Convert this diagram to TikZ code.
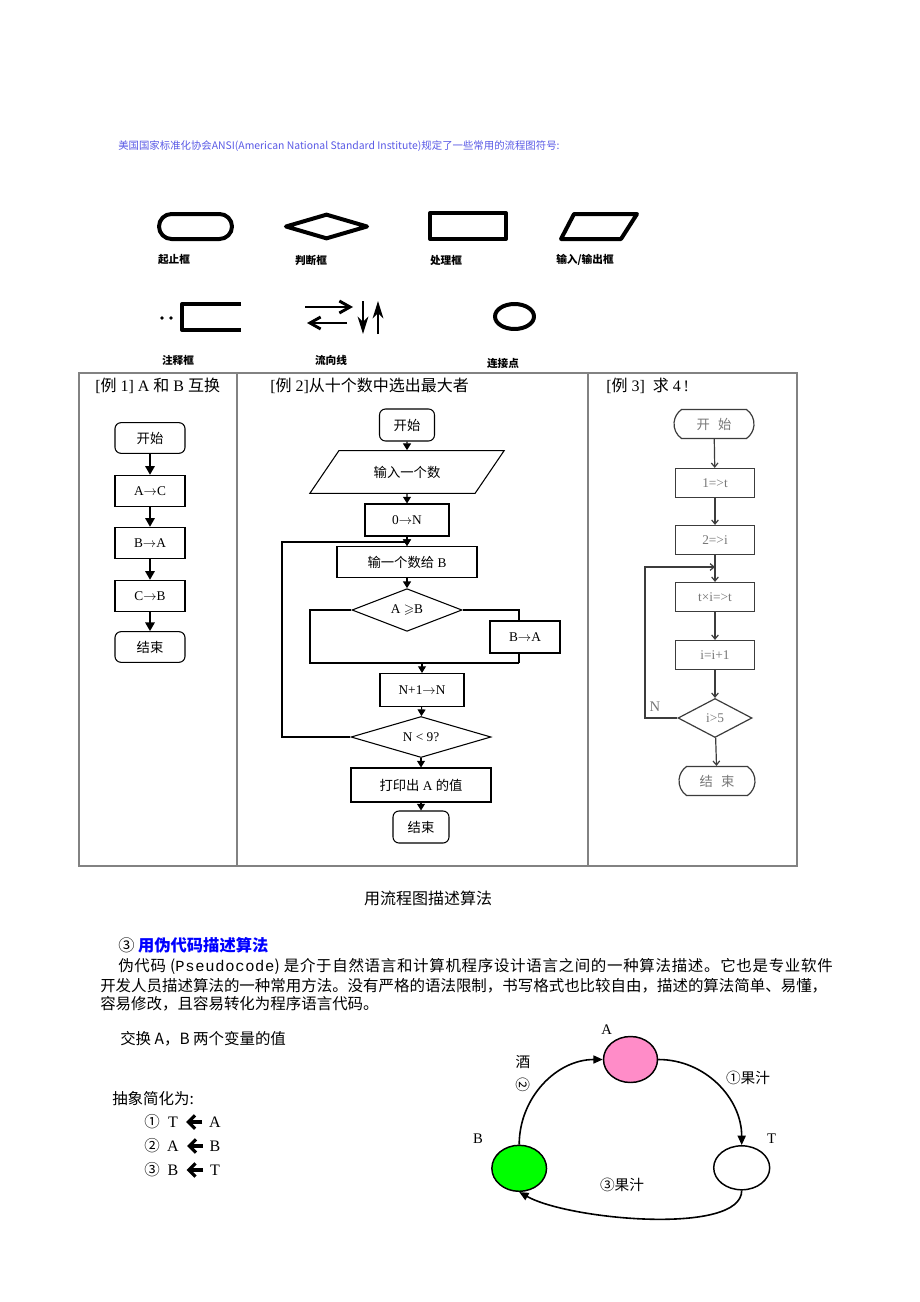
\documentclass[tikz,border=0pt]{standalone}
\usepackage{fontspec}
\usepackage{amssymb}
\usepackage{tikz}
\usetikzlibrary{positioning, shapes.geometric, shapes.misc, arrows.meta}

\setmainfont{Liberation Serif}
\newfontfamily\cjk{Noto Sans CJK SC}
\newfontfamily\cjkwide[LetterSpace=4.5]{Noto Sans CJK SC}
\newfontfamily\monolat[LetterSpace=4.5]{Liberation Mono}
\newcommand{\zh}[1]{{\cjk #1}}

\definecolor{capblue}{RGB}{90,90,230}
\definecolor{framegray}{RGB}{130,130,130}
\definecolor{exline}{RGB}{60,60,60}
\definecolor{extext}{RGB}{120,120,120}
\definecolor{pinkA}{RGB}{255,140,200}
\definecolor{greenB}{RGB}{0,255,0}

\begin{document}
\begin{tikzpicture}[
  x=0.75pt, y=-0.75pt,
  every node/.style={inner sep=0pt, align=center},
  symline/.style={draw, line width=3pt, line join=round},
  symlabel/.style={font=\cjk\bfseries\fontsize{8}{9}\selectfont},
  flowsym/.style={line width=2.2pt, -{Straight Barb[length=8pt, width=9pt]}},
  flowvert/.style={line width=2pt, -{Stealth[length=13pt, width=8pt, inset=4pt]}},
  frame/.style={draw=framegray, line width=1.1pt},
  title/.style={anchor=west, font=\fontsize{12}{14}\selectfont},
  e1term/.style={draw, line width=0.8pt, rounded corners=4.5pt, minimum width=52.5pt, minimum height=23pt, font=\fontsize{10}{12}\selectfont},
  e1box/.style={draw, line width=0.8pt, minimum width=52.5pt, minimum height=23.5pt, font=\fontsize{10}{12}\selectfont},
  e1arrow/.style={-{Triangle[length=6.5pt, width=7pt]}, line width=1.4pt},
  e2box/.style={draw, line width=0.8pt, font=\fontsize{10}{12}\selectfont},
  e2dec/.style={e2box, diamond, aspect=3},
  e2line/.style={line width=0.8pt},
  e2arrow/.style={e2line, -{Triangle[length=5pt, width=6pt]}},
  e3box/.style={draw=exline, line width=0.9pt, text=extext, minimum width=59.25pt, minimum height=21.75pt, font=\fontsize{10}{12}\selectfont},
  e3term/.style={e3box, rounded rectangle, rounded rectangle arc length=110},
  e3arrow/.style={draw=exline, line width=0.9pt, -{Straight Barb[length=3pt, width=5pt]}},
  vertex/.style={draw, ellipse, line width=1.1pt},
  cyc/.style={line width=1.2pt, -{Triangle[length=7pt, width=6pt]}},
  lbl/.style={font=\fontsize{11}{13}\selectfont},
  zhtext/.style={anchor=west, font=\cjk\fontsize{11.6}{14}\selectfont},
  stepvar/.style={font=\fontsize{12}{14}\selectfont},
  steparrow/.style={line width=2.4pt, -{Straight Barb[length=5pt, width=10pt]}, shorten >=6pt, shorten <=5pt}
]
\path[fill=white, use as bounding box] (0,0) rectangle (920,1302);

% caption of the symbols
\node[anchor=west, text=capblue, font=\cjk\fontsize{7.8}{10}\selectfont] (ansi) at (118,146) {美国国家标准化协会ANSI(American National Standard Institute)规定了一些常用的流程图符号:};

% symbols, first row
\node[symline, rounded rectangle, minimum width=54.75pt, minimum height=18.75pt] (symterm) at (195.5,226.5) {};
\node[symline, diamond, minimum width=62pt, minimum height=19pt] (symdec) at (326.5,226.5) {};
\node[symline, rectangle, minimum width=57pt, minimum height=19.5pt] (symproc) at (468,226) {};
\draw[symline] (574,214) -- (637,214) -- (621,239) -- (561,239) -- cycle;
\node[symlabel] (lterm) at (174,260) {起止框};
\node[symlabel] (ldec) at (311,260) {判断框};
\node[symlabel] (lproc) at (446,260) {处理框};
\node[symlabel] (lio) at (585,260) {输入/输出框};

% symbols, second row
\fill (162,318) circle (1.4pt);
\fill (171,318) circle (1.4pt);
\draw[symline] (241,304) -- (182,304) -- (182,330) -- (241,330);
\draw[flowsym] (305,307) -- (353,307);
\draw[flowsym] (347,323) -- (307,323);
\draw[flowvert] (363,301) -- (363,334);
\draw[flowvert] (378,334) -- (378,301);
\node[symline, ellipse, minimum width=29.25pt, minimum height=18.75pt] (symconn) at (514.5,316.5) {};
\node[symlabel] (lnote) at (178,360) {注释框};
\node[symlabel] (lflow) at (331,360) {流向线};
\node[symlabel] (lconn) at (503,364) {连接点};

% frame of the three examples
\draw[frame] (79,373) rectangle (797,866);
\draw[frame] (237,373) -- (237,866);
\draw[frame] (588,373) -- (588,866);

\node[title] (title1) at (95,386) {[\zh{例} 1] A \zh{和} B \zh{互换}};
\node[title] (title2) at (270,386) {[\zh{例} 2]\zh{从十个数中选出最大者}};
\node[title] (title3) at (606,386) {[\zh{例} 3]\ \ \zh{求} 4\,!};

% example 1
\node[e1term] (start1) at (150,438) {\zh{开始}};
\node[e1box] (ac1) at (150,491) {A$\rightarrow$C};
\node[e1box] (ba1) at (150,543) {B$\rightarrow$A};
\node[e1box] (cb1) at (150,596) {C$\rightarrow$B};
\node[e1term] (end1) at (150,647) {\zh{结束}};
\draw[e1arrow] (start1) -- (ac1);
\draw[e1arrow] (ac1) -- (ba1);
\draw[e1arrow] (ba1) -- (cb1);
\draw[e1arrow] (cb1) -- (end1);

% example 2
\node[e2box, rounded corners=4.5pt, minimum width=41.25pt, minimum height=24pt] (start2) at (407,425) {\zh{开始}};
\node[e2box, trapezium, trapezium left angle=41, trapezium right angle=139, trapezium stretches=true, minimum width=146pt, minimum height=32pt] (input2) at (407,472) {\zh{输入一个数}};
\node[e2box, minimum width=63pt, minimum height=24pt] (zero2) at (407,520) {0$\rightarrow$N};
\node[e2box, minimum width=105pt, minimum height=23.25pt] (readb2) at (407,562) {\zh{输一个数给} B};
\node[e2dec, minimum width=82.5pt, minimum height=32pt] (cmp2) at (407,610) {A $\geqslant$B};
\node[e2box, minimum width=52.5pt, minimum height=24pt] (swap2) at (525,637) {B$\rightarrow$A};
\node[e2box, minimum width=63pt, minimum height=24.75pt] (inc2) at (422,690) {N+1$\rightarrow$N};
\node[e2dec, minimum width=105pt, minimum height=30.75pt] (test2) at (421,737) {N < 9?};
\node[e2box, minimum width=105pt, minimum height=25.5pt] (print2) at (421,785) {\zh{打印出} A \zh{的值}};
\node[e2box, rounded corners=4.5pt, minimum width=42pt, minimum height=24pt] (end2) at (421,827) {\zh{结束}};
\coordinate (jl2) at (310,663);
\coordinate (jr2) at (519,663);
\coordinate (loop2) at (282,542);
\draw[e2arrow] (start2) -- (input2);
\draw[e2arrow] (input2) -- (zero2);
\draw[e2arrow] (zero2) -- (readb2);
\draw[e2arrow] (readb2) -- (cmp2);
\draw[e2line] (cmp2.west) -| (jl2) -- (jr2);
\draw[e2line] (cmp2.east) -| (jr2 |- swap2.north);
\draw[e2line] (jr2 |- swap2.south) -- (jr2);
\draw[e2arrow] (jr2 -| inc2.north) -- (inc2);
\draw[e2arrow] (inc2) -- (test2);
\draw[e2arrow] (test2.west) -| (loop2) -| (readb2.north);
\draw[e2arrow] (test2) -- (print2);
\draw[e2arrow] (print2) -- (end2);

% example 3
\node[e3term, minimum width=60pt] (start3) at (714,424) {\zh{开\hspace{6pt}始}};
\node[e3box] (one3) at (715,483) {1=>t};
\node[e3box] (two3) at (715,540) {2=>i};
\node[e3box] (mul3) at (715,597) {t×i=>t};
\node[e3box] (inc3) at (715,655) {i=i+1};
\node[e3box, diamond, aspect=2, minimum width=55.5pt, minimum height=29.25pt] (test3) at (715,718) {i>5};
\node[e3term, minimum width=57pt] (end3) at (717,781) {\zh{结\hspace{6pt}束}};
\node[text=extext, font=\fontsize{11}{13}\selectfont] (nlab3) at (655,707) {N};
\coordinate (loop3) at (645,567);
\coordinate (merge3) at (715,567);
\draw[e3arrow] (start3) -- (one3);
\draw[e3arrow] (one3) -- (two3);
\draw[e3arrow] (two3) -- (mul3);
\draw[e3arrow] (mul3) -- (inc3);
\draw[e3arrow] (inc3) -- (test3);
\draw[e3arrow] (test3) -- (end3);
\draw[e3arrow] (test3.west) -| (loop3) -- (merge3);

\node[font=\cjk\fontsize{12}{14}\selectfont] (figcap) at (428,898) {用流程图描述算法};

% pseudocode text
\node[anchor=west, font=\cjk\fontsize{12.2}{14}\selectfont] (head) at (118,945) {③ \textcolor{blue}{\bfseries 用伪代码描述算法}};
\node[zhtext, font=\cjkwide\fontsize{11.6}{14}\selectfont] (par1) at (118,966) {伪代码 ({\monolat Pseudocode}) 是介于自然语言和计算机程序设计语言之间的一种算法描述。它也是专业软件};
\node[zhtext] (par2) at (100,986) {开发人员描述算法的一种常用方法。没有严格的语法限制，书写格式也比较自由，描述的算法简单、易懂，};
\node[zhtext] (par3) at (100,1004) {容易修改，且容易转化为程序语言代码。};
\node[zhtext] (swaptxt) at (120,1039) {交换 A，B 两个变量的值};
\node[zhtext] (abstr) at (112,1099) {抽象简化为:};

% the three assignments
\node[font=\cjk\fontsize{11.6}{14}\selectfont] (circ1) at (152,1122) {①};
\node[stepvar] (dst1) at (173,1122) {T};
\node[stepvar] (src1) at (215,1122) {A};
\node[font=\cjk\fontsize{11.6}{14}\selectfont] (circ2) at (152,1146) {②};
\node[stepvar] (dst2) at (173,1146) {A};
\node[stepvar] (src2) at (215,1146) {B};
\node[font=\cjk\fontsize{11.6}{14}\selectfont] (circ3) at (152,1170) {③};
\node[stepvar] (dst3) at (173,1170) {B};
\node[stepvar] (src3) at (215,1170) {T};
\draw[steparrow] (src1) -- (dst1);
\draw[steparrow] (src2) -- (dst2);
\draw[steparrow] (src3) -- (dst3);

% exchange cycle
\node[vertex, fill=pinkA, minimum width=40.5pt, minimum height=34.5pt] (vA) at (630.5,1059.5) {};
\node[vertex, fill=white, minimum width=42pt, minimum height=33pt] (vT) at (741.7,1167.8) {};
\node[vertex, fill=greenB, minimum width=41pt, minimum height=34.5pt] (vB) at (519.2,1168.3) {};
\node[lbl] (labA) at (606.7,1030) {A};
\node[lbl] (labT) at (771.7,1139) {T};
\node[lbl] (labB) at (478,1139) {B};
\draw[cyc] (vA.east) to[out=0, in=90] (vT.north);
\draw[cyc] (vB.north) to[out=90, in=180] (vA.west);
\draw[cyc] (vT.south) .. controls +(0,45) and +(50,28) .. (vB.south);
\node[font=\cjk\fontsize{11}{13}\selectfont] (juice1) at (748,1078) {①果汁};
\node[font=\cjk\fontsize{11}{13}\selectfont] (wine) at (523,1062) {酒};
\node[font=\cjk\fontsize{11}{13}\selectfont, rotate=-90] (wine2) at (523,1085) {②};
\node[font=\cjk\fontsize{11}{13}\selectfont] (juice3) at (622,1185) {③果汁};
\end{tikzpicture}
\end{document}
